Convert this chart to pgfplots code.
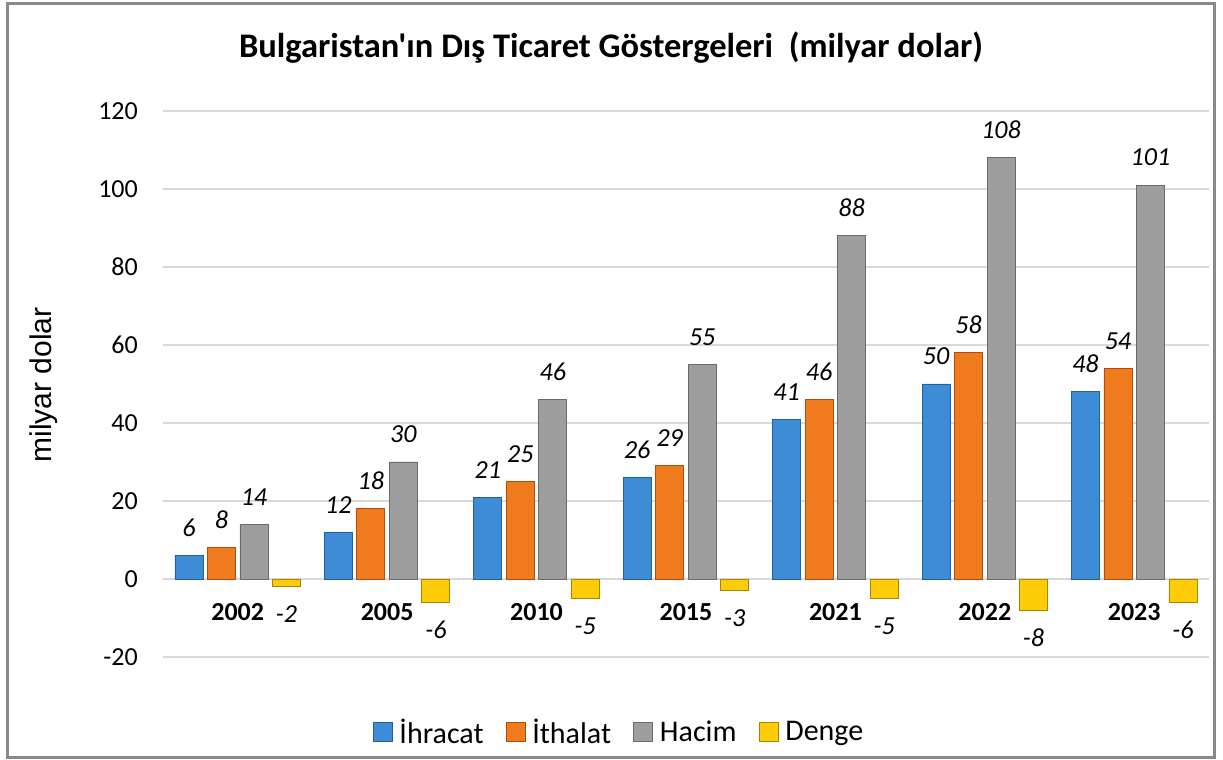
\documentclass[border=0pt]{standalone}
\usepackage{pgfplots}
\pgfplotsset{compat=1.18}
\usepackage{fontspec}
\setmainfont{Carlito}
\newfontfamily\titlefont{Carlito}[Ligatures=TeXOff]
\newfontfamily\arialfont{Liberation Sans}

\definecolor{ihr}{HTML}{3D8CD6}
\definecolor{ihrD}{HTML}{2360A0}
\definecolor{ith}{HTML}{F07A1E}
\definecolor{ithD}{HTML}{B04E0C}
\definecolor{hac}{HTML}{9E9E9E}
\definecolor{hacD}{HTML}{6A6A6A}
\definecolor{den}{HTML}{FFCC0A}
\definecolor{denD}{HTML}{A88400}
\definecolor{gridc}{HTML}{D9D9D9}
\definecolor{framec}{HTML}{898989}

% Bulgaristan dis ticaret, milyar dolar
\pgfplotstableread{
x ihracat ithalat hacim denge
0 6  8  14  -2
1 12 18 30  -6
2 21 25 46  -5
3 26 29 55  -3
4 41 46 88  -5
5 50 58 108 -8
6 48 54 101 -6
}\dis

\pgfplotsset{
  sq legend/.style={legend image code/.code={%
    \draw[##1] (0bp,-9.5bp) rectangle (19bp,9.5bp);
    \path (26bp,0bp);}},
}

\begin{document}
\begin{tikzpicture}
\useasboundingbox (-163bp,-103bp) rectangle (1060bp,657bp);
\begin{axis}[
  at={(0,0)}, anchor=south west,
  scale only axis, width=1046bp, height=546bp,
  xmin=-0.5, xmax=6.5, ymin=-20, ymax=120,
  ytick={-20,0,...,120},
  xtick={0,...,6}, xticklabels={2002,2005,2010,2015,2021,2022,2023},
  ymajorgrids, grid style={color=gridc, line width=1.3bp},
  axis line style={draw=none}, major tick length=0pt,
  /pgf/number format/assume math mode=true,
  yticklabel style={font=\fontsize{26bp}{30bp}\selectfont, anchor=east, inner sep=0pt, xshift=-25bp},
  xticklabel style={font=\fontsize{26bp}{30bp}\selectfont\bfseries, anchor=center, inner sep=0pt, yshift=45bp},
  ybar=4.5bp, bar width=28bp,
  nodes near coords,
  every node near coord/.append style={font=\fontsize{26bp}{30bp}\selectfont\itshape, inner sep=0pt, outer sep=19bp, color=black},
  legend style={at={(0.435,-0.137)}, anchor=center, legend columns=-1, draw=none,
    font=\fontsize{30bp}{34bp}\selectfont, inner sep=0pt,
    /tikz/every even column/.append style={column sep=22bp},
    nodes={inner xsep=0pt, inner ysep=3bp}},
]
\addplot[fill=ihr, draw=ihrD, line width=0.8bp, sq legend] table[x=x,y=ihracat]{\dis};
\addplot[fill=ith, draw=ithD, line width=0.8bp, sq legend] table[x=x,y=ithalat]{\dis};
\addplot[fill=hac, draw=hacD, line width=0.8bp, sq legend] table[x=x,y=hacim]{\dis};
\addplot[fill=den, draw=denD, line width=0.8bp, sq legend] table[x=x,y=denge]{\dis};
\legend{İhracat, İthalat, Hacim, Denge}
\end{axis}
\node[font=\fontsize{34.5bp}{38bp}\titlefont\bfseries] at (448bp,609bp) {Bulgaristan'ın Dış Ticaret Göstergeleri\ \ (milyar dolar)};
\node[font=\fontsize{30bp}{34bp}\arialfont, rotate=90] at (-119bp,272bp) {milyar dolar};
\draw[color=framec, line width=3bp] (-155bp,-100bp) rectangle (1051bp,653bp);
\end{tikzpicture}
\end{document}
